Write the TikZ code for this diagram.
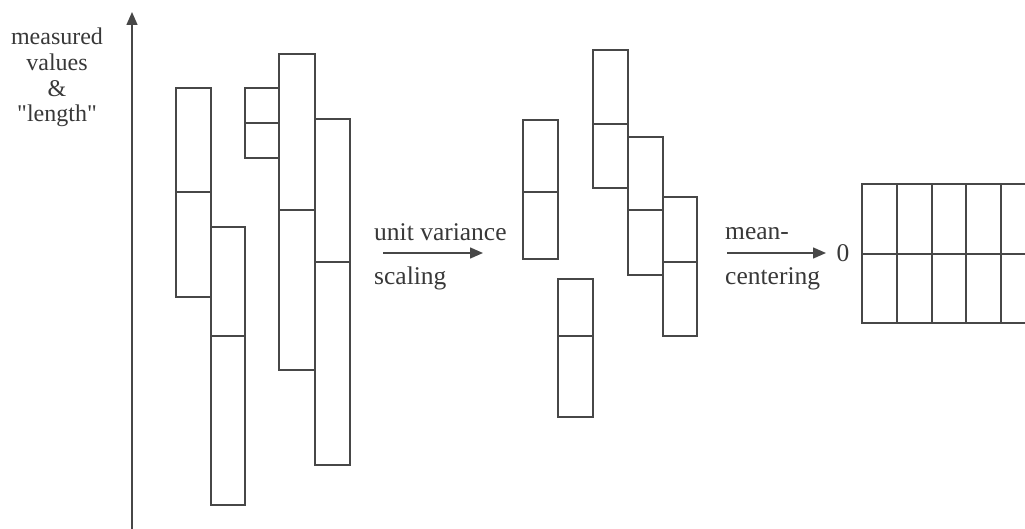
\documentclass[tikz,border=0pt]{standalone}
\usepackage{fontspec}
\setmainfont{Liberation Serif}
\newfontfamily\plainq{Liberation Serif}
\usetikzlibrary{arrows.meta,fit}
\newcommand\mybar[6]{%
  \node[barbox, fit={(#2,#3) (#4,#5)}] (#1) {};
  \draw[lin] (#2,#6) -- (#4,#6);
}
\begin{document}
\begin{tikzpicture}[x=1pt,y=-1pt,
  lin/.style={draw=black!72, line width=1.3pt},
  barbox/.style={lin, inner sep=0pt, rectangle},
  arr/.style={draw=black!72, line width=1.4pt, -{Triangle[length=13pt,width=11pt]}},
  lbl/.style={font=\fontsize{25.5}{26}\selectfont, text=black!78, inner sep=0pt},
  ylbl/.style={font=\plainq\fontsize{24}{26}\selectfont, text=black!78, inner sep=0pt, anchor=base}]
\useasboundingbox (0,0) rectangle (1025,529);
% axis
\coordinate (ax0) at (132,529);
\coordinate (ax1) at (132,12);
\draw[arr] (ax0) -- (ax1);
\node[ylbl] (y1) at (57,45) {measured};
\node[ylbl] (y2) at (57,71) {values};
\node[ylbl] (y3) at (57,97) {\&};
\node[ylbl] (y4) at (57,122) {"length"};
% left group
\mybar{l1}{176}{88}{211}{297}{192}
\mybar{l2}{211}{227}{245}{505}{336}
\mybar{l3}{245}{88}{279}{158}{123}
\mybar{l4}{279}{54}{315}{370}{210}
\mybar{l5}{315}{119}{350}{465}{262}
% arrow 1
\coordinate (a1s) at (383,253);
\coordinate (a1e) at (483,253);
\draw[arr] (a1s) -- (a1e);
\node[lbl, anchor=base west] (t1) at (374,241) {unit variance};
\node[lbl, anchor=base west] (t2) at (374,285) {scaling};
% middle group
\mybar{m1}{523}{120}{558}{259}{192}
\mybar{m2}{558}{279}{593}{417}{336}
\mybar{m3}{593}{50}{628}{188}{124}
\mybar{m4}{628}{137}{663}{275}{210}
\mybar{m5}{663}{197}{697}{336}{262}
% arrow 2
\coordinate (a2s) at (727,253);
\coordinate (a2e) at (826,253);
\draw[arr] (a2s) -- (a2e);
\node[lbl, anchor=base west] (t3) at (725,240) {mean-};
\node[lbl, anchor=base west] (t4) at (725,285) {centering};
\node[lbl] (zero) at (843,253) {0};
% right grid
\draw[lin] (1026,184) -- (862,184) -- (862,323) -- (1026,323);
\draw[lin] (862,254) -- (1026,254);
\foreach \xx in {897,932,966,1001} \draw[lin] (\xx,184) -- (\xx,323);
\end{tikzpicture}
\end{document}
